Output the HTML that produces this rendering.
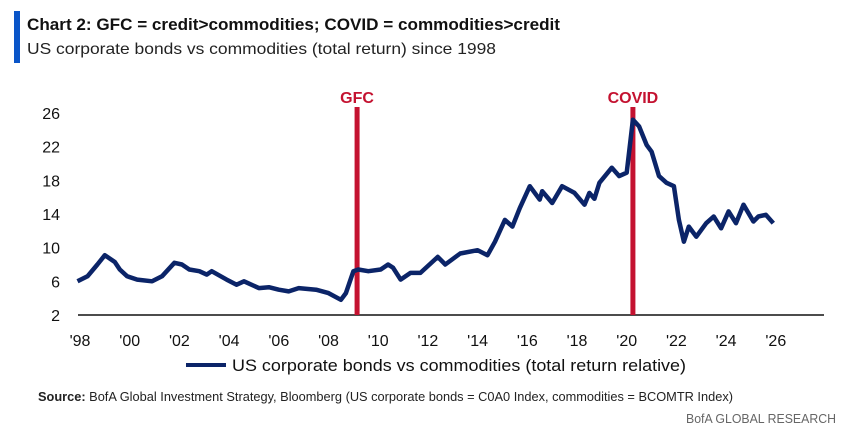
<!DOCTYPE html>
<html><head><meta charset="utf-8"><style>
body{margin:0;background:#fff;}
svg{display:block;font-family:"Liberation Sans",sans-serif;}
</style></head><body>
<svg id="chart" width="844" height="433">
<rect x="14" y="11" width="6" height="52" fill="#0a55c8"/>
<text x="27" y="30" font-size="17" font-weight="bold" fill="#111" textLength="533" lengthAdjust="spacingAndGlyphs">Chart 2: GFC = credit&gt;commodities; COVID = commodities&gt;credit</text>
<text x="27" y="54" font-size="16" fill="#222" textLength="469" lengthAdjust="spacingAndGlyphs">US corporate bonds vs commodities (total return) since 1998</text>
<g id="yaxis"></g>
<g id="xaxis"></g>
<line x1="78" y1="315" x2="824" y2="315" stroke="#111" stroke-width="1.5"/>
<g id="events"></g>
<path id="series" fill="none" stroke="#0b2468" stroke-width="4.5" stroke-linejoin="round"/>
<line x1="186" y1="365" x2="226" y2="365" stroke="#0b2468" stroke-width="4"/>
<text x="232" y="371" font-size="17" fill="#111" textLength="454" lengthAdjust="spacingAndGlyphs">US corporate bonds vs commodities (total return relative)</text>
<text x="38" y="401" font-size="13" fill="#222" textLength="695" lengthAdjust="spacingAndGlyphs"><tspan font-weight="bold">Source:</tspan> BofA Global Investment Strategy, Bloomberg (US corporate bonds = C0A0 Index, commodities = BCOMTR Index)</text>
<text x="836" y="423" font-size="13" fill="#666" text-anchor="end" textLength="150" lengthAdjust="spacingAndGlyphs">BofA GLOBAL RESEARCH</text>
</svg>
<script>
const yTicks=[2,6,10,14,18,22,26];
const xTickYears=[1998,2000,2002,2004,2006,2008,2010,2012,2014,2016,2018,2020,2022,2024,2026];
const xTickLabels=["'98","'00","'02","'04","'06","'08","'10","'12","'14","'16","'18","'20","'22","'24","'26"];
const eventNames=["GFC","COVID"];
const eventYears=[2009.15,2020.25];
const years=[1997.9,1998.3,1998.7,1999.0,1999.4,1999.6,1999.9,2000.3,2000.9,2001.3,2001.8,2002.1,2002.4,2002.8,2003.1,2003.3,2003.9,2004.3,2004.6,2005.2,2005.6,2006.0,2006.4,2006.8,2007.5,2008.0,2008.5,2008.7,2009.0,2009.2,2009.6,2010.1,2010.4,2010.6,2010.9,2011.3,2011.7,2012.4,2012.7,2013.3,2014.0,2014.4,2014.7,2015.1,2015.4,2015.7,2016.1,2016.5,2016.6,2017.0,2017.4,2017.9,2018.3,2018.5,2018.7,2018.9,2019.4,2019.7,2020.0,2020.25,2020.5,2020.8,2021.0,2021.3,2021.6,2021.9,2022.1,2022.3,2022.5,2022.8,2023.2,2023.5,2023.8,2024.1,2024.4,2024.7,2025.1,2025.3,2025.6,2025.9];
const values=[6.0,6.6,8.0,9.1,8.3,7.4,6.6,6.2,6.0,6.6,8.2,8.0,7.4,7.2,6.8,7.2,6.2,5.6,6.0,5.2,5.3,5.0,4.8,5.2,5.0,4.6,3.8,4.6,7.2,7.4,7.2,7.4,8.0,7.6,6.2,7.0,7.0,8.9,8.0,9.3,9.7,9.1,10.7,13.3,12.5,14.7,17.3,15.7,16.7,15.3,17.3,16.5,15.1,16.5,15.8,17.7,19.5,18.5,18.9,25.2,24.4,22.2,21.4,18.5,17.7,17.3,13.3,10.7,12.5,11.3,12.9,13.7,12.3,14.3,12.9,15.1,13.1,13.7,13.9,12.9];
const NS="http://www.w3.org/2000/svg";
function xS(yr){return 80+(yr-1998)*24.85;}
function yS(v){return 315-(v-2)*8.42;}
const ya=document.getElementById('yaxis');
yTicks.forEach(t=>{const e=document.createElementNS(NS,'text');


e.setAttribute('x',60);e.setAttribute('y',yS(t)+6);e.setAttribute('text-anchor','end');e.setAttribute('font-size','16');e.setAttribute('fill','#111');e.textContent=t;ya.appendChild(e);});
const xa=document.getElementById('xaxis');
xTickYears.forEach((yr,i)=>{const e=document.createElementNS(NS,'text');


e.setAttribute('x',xS(yr));e.setAttribute('y',346);e.setAttribute('text-anchor','middle');e.setAttribute('font-size','16');e.setAttribute('fill','#111');e.textContent=xTickLabels[i];xa.appendChild(e);});
const ev=document.getElementById('events');
eventYears.forEach((yr,i)=>{const l=document.createElementNS(NS,'line');


l.setAttribute('x1',xS(yr));l.setAttribute('x2',xS(yr));l.setAttribute('y1',107);l.setAttribute('y2',315);l.setAttribute('stroke','#c41230');l.setAttribute('stroke-width','5');ev.appendChild(l);
const t=document.createElementNS(NS,'text');


t.setAttribute('x',xS(yr));t.setAttribute('y',103);t.setAttribute('text-anchor','middle');t.setAttribute('font-size','16');t.setAttribute('font-weight','bold');t.setAttribute('fill','#c41230');t.textContent=eventNames[i];ev.appendChild(t);});
document.getElementById('series').setAttribute('d',years.map((yr,i)=>(i?'L':'M')+xS(yr).toFixed(1)+','+yS(values[i]).toFixed(1)).join(''));
</script>
</body></html>
